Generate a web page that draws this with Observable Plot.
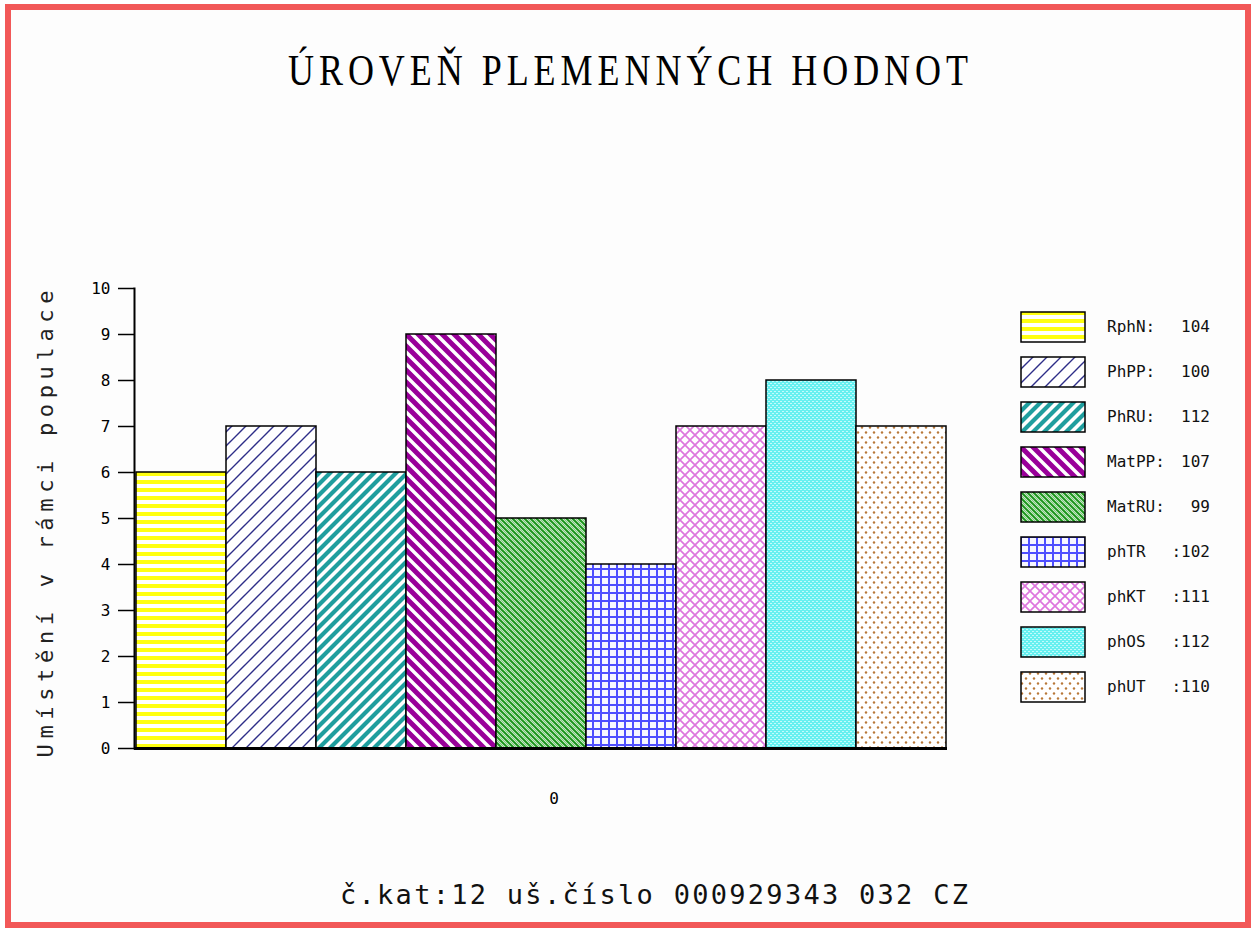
<!DOCTYPE html>
<html><head><meta charset="utf-8">
<script src="https://cdn.jsdelivr.net/npm/d3@7"></script>
<script src="https://cdn.jsdelivr.net/npm/@observablehq/plot@0.6"></script>
<style>
html,body{margin:0;padding:0;background:#ffffff;}
#page{position:relative;width:1255px;height:933px;overflow:hidden;background:#ffffff;}
#inner{position:absolute;left:5px;top:4px;width:1246px;height:924px;box-sizing:border-box;border:6px solid #f25858;background:#fdfdfd;}
.abs{position:absolute;left:0;top:0;}
#legend{position:absolute;left:1020px;top:311px;font-family:"DejaVu Sans Mono",monospace;font-size:16px;color:#111;}
.row{position:relative;height:45px;}
.row svg{position:absolute;left:0;top:0;}
.row .nm{position:absolute;left:87px;top:6px;}
.row .vl{position:absolute;right:-190px;top:6px;text-align:right;width:100px;}
</style>
</head><body>
<div id="page">
  <div id="inner"></div>
  <svg class="abs" width="0" height="0" style="position:absolute">
    <defs>
      <pattern id="pat0" patternUnits="userSpaceOnUse" width="8" height="8">
        <rect width="8" height="8" fill="#ffffff"/>
        <rect y="0" width="8" height="4" fill="#ffff10"/>
      </pattern>
      <pattern id="pat1" patternUnits="userSpaceOnUse" width="14" height="14">
        <rect width="14" height="14" fill="#ffffff"/>
        <path d="M0,14L14,0M-2,2L2,-2M12,16L16,12" stroke="#2e2e88" stroke-width="1.4"/>
      </pattern>
      <pattern id="pat2" patternUnits="userSpaceOnUse" width="11" height="11">
        <rect width="11" height="11" fill="#ffffff"/>
        <path d="M0,11L11,0M-4,4L4,-4M7,15L15,7" stroke="#1f9e9e" stroke-width="4.2"/>
      </pattern>
      <pattern id="pat3" patternUnits="userSpaceOnUse" width="12" height="12">
        <rect width="12" height="12" fill="#ffffff"/>
        <path d="M0,0L12,12M-4,8L4,16M8,-4L16,4" stroke="#990099" stroke-width="5"/>
      </pattern>
      <pattern id="pat4" patternUnits="userSpaceOnUse" width="6" height="6">
        <rect width="6" height="6" fill="#ffffff"/>
        <path d="M1.5,-1.5L7.5,4.5M-1.5,1.5L4.5,7.5" stroke="#7cc87c" stroke-width="1.2"/>
        <path d="M0,0L6,6M-1,5L1,7M5,-1L7,1" stroke="#1a961a" stroke-width="2.1"/>
      </pattern>
      <pattern id="pat5" patternUnits="userSpaceOnUse" width="8" height="8">
        <rect width="8" height="8" fill="#f6f6ff"/>
        <rect width="8" height="2" fill="#4e4eff"/>
        <rect width="2" height="8" fill="#4e4eff"/>
      </pattern>
      <pattern id="pat6" patternUnits="userSpaceOnUse" width="10" height="10">
        <rect width="10" height="10" fill="#ffffff"/>
        <path d="M0,0L10,10M10,0L0,10" stroke="#dd77dd" stroke-width="1.7"/>
      </pattern>
      <pattern id="pat7" patternUnits="userSpaceOnUse" width="4" height="4">
        <rect width="4" height="4" fill="#66f0f0"/>
        <path d="M0,1.5L2,1.5M2,3.5L4,3.5" stroke="#c4fbfb" stroke-width="1"/>
      </pattern>
      <pattern id="pat8" patternUnits="userSpaceOnUse" width="8" height="10">
        <rect width="8" height="10" fill="#ffffff"/>
        <circle cx="2" cy="2.5" r="1.2" fill="#b87838"/>
        <circle cx="6" cy="7.5" r="1.2" fill="#b87838"/>
      </pattern>
    </defs>
  </svg>
  <svg class="abs" width="1255" height="120">
    <text id="title" transform="translate(288,85) scale(0.8,1)" x="0" y="0" font-family="Liberation Serif" font-size="45" fill="#000" textLength="850" lengthAdjust="spacing"></text>
  </svg>
  <div id="chart" class="abs"></div>
  <div id="legend"></div>
  <svg class="abs" width="1255" height="933" style="pointer-events:none">
    <text id="footer" x="340" y="904" font-family="DejaVu Sans Mono" font-size="27" fill="#111" textLength="628" lengthAdjust="spacing"></text>
  </svg>
</div>
<script>
const titleText = "ÚROVEŇ PLEMENNÝCH HODNOT";
const footerText = "č.kat:12 uš.číslo 000929343 032 CZ";
const yLabel = "Umístění v rámci populace";
const xTickLabel = "0";
const categories = ["RphN","PhPP","PhRU","MatPP","MatRU","phTR","phKT","phOS","phUT"];
const values = [6,7,6,9,5,4,7,8,7];
const legendNames = ["RphN:","PhPP:","PhRU:","MatPP:","MatRU:","phTR","phKT","phOS","phUT"];
const legendValues = ["104","100","112","107","99",":102",":111",":112",":110"];
const yTicks = [0,1,2,3,4,5,6,7,8,9,10];

document.getElementById("title").textContent = titleText;
document.getElementById("footer").textContent = footerText;

const patterns = categories.map((c,i)=>`url(#pat${i})`);
const data = categories.map((c,i)=>({cat:c, val:values[i]}));

const chart = Plot.plot({
  width:1255, height:933,
  marginLeft:134, marginRight:308, marginTop:288, marginBottom:185,
  style:{background:"transparent", fontFamily:"DejaVu Sans Mono", fontSize:"16px", color:"#000", overflow:"visible"},
  x:{domain:categories, padding:0, axis:null},
  y:{domain:[0,10]},
  color:{type:"ordinal", domain:categories, range:patterns},
  marks:[
    Plot.barY(data,{x:"cat", y:"val", fill:"cat", stroke:"#000", strokeWidth:1.5}),
    Plot.axisY({ticks:yTicks, tickSize:16, tickPadding:8, tickFormat:d=>String(d), label:null, strokeWidth:1.5, fontSize:16}),
    Plot.frame({anchor:"left", strokeWidth:2}),
    Plot.ruleY([0],{strokeWidth:3}),
    Plot.text([xTickLabel],{frameAnchor:"bottom", dy:55, dx:13, fontSize:16}),
    Plot.text([yLabel],{frameAnchor:"left", rotate:-90, dx:-89, dy:5, fontSize:22, fill:"#222"})
  ]
});
document.getElementById("chart").appendChild(chart);
d3.select(chart).selectAll("text").each(function(){
  if (this.textContent === yLabel) {
    this.setAttribute("text-anchor","start");
    this.setAttribute("x","-234");
    this.setAttribute("textLength","467");
    this.setAttribute("lengthAdjust","spacing");
  }
});

const legend = d3.select("#legend");
categories.forEach((c,i)=>{
  const row = legend.append("div").attr("class","row");
  const s = row.append("svg").attr("width",66).attr("height",32);
  s.append("rect").attr("x",1).attr("y",1).attr("width",64).attr("height",30)
    .attr("fill",patterns[i]).attr("stroke","#000").attr("stroke-width",1.5);
  row.append("span").attr("class","nm").text(legendNames[i]);
  row.append("span").attr("class","vl").text(legendValues[i]);
});
</script>
</body></html>
